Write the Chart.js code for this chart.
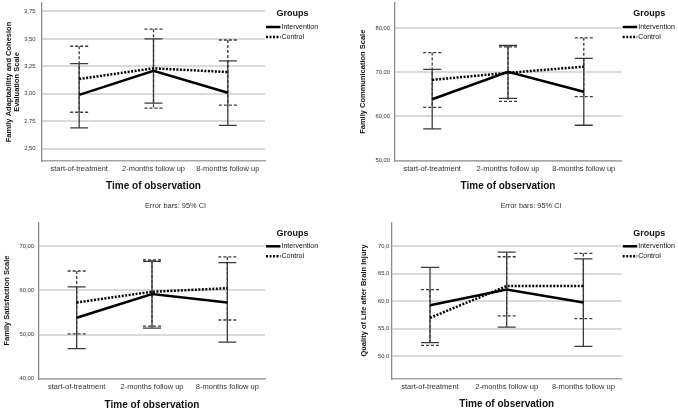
<!DOCTYPE html>
<html>
<head>
<meta charset="utf-8">
<script src="https://cdn.jsdelivr.net/npm/chart.js@4.4.1/dist/chart.umd.min.js"></script>
<style>
  body { margin: 0; background: #fff; }
  #wrap { position: relative; width: 678px; height: 411px; overflow: hidden; }
  canvas { position: absolute; }
  .note { position: absolute; font: 7.4px 'Liberation Sans', Arial, sans-serif; color: #333;
          transform: translate(-50%, -50%); white-space: nowrap; z-index: 2; }
</style>
</head>
<body>
<div id="wrap">
  <canvas id="faces" width="340" height="205" style="left:0;top:0"></canvas>
  <canvas id="comm" width="338" height="205" style="left:340px;top:0"></canvas>
  <canvas id="sat" width="340" height="206" style="left:0;top:205px"></canvas>
  <canvas id="qol" width="338" height="206" style="left:340px;top:205px"></canvas>
  <div class="note" style="left:175.5px;top:205px">Error bars: 95% CI</div>
  <div class="note" style="left:531px;top:205px">Error bars: 95% CI</div>
</div>
<script>
const categories = ['start-of-treatment', '2-months follow up', '8-months follow up'];
const groups = ['Intervention', 'Control'];
const legendTitle = 'Groups';
const xTitle = 'Time of observation';

// Family Adaptability and Cohesion Evaluation Scale
const facesInt = [2.99, 3.21, 3.01];
const facesIntLo = [2.69, 2.915, 2.713];
const facesIntHi = [3.275, 3.50, 3.30];
const facesCtl = [3.135, 3.232, 3.198];
const facesCtlLo = [2.832, 2.869, 2.896];
const facesCtlHi = [3.433, 3.589, 3.49];
const facesTicks = [2.5, 2.75, 3.0, 3.25, 3.5, 3.75];
const facesTickLabels = ['2,50', '2,75', '3,00', '3,25', '3,50', '3,75'];

// Family Communication Scale
const commInt = [63.9, 70.15, 65.6];
const commIntLo = [57.2, 64.1, 58.0];
const commIntHi = [70.7, 76.1, 73.2];
const commCtl = [68.3, 69.9, 71.3];
const commCtlLo = [62.05, 63.4, 64.5];
const commCtlHi = [74.5, 75.8, 77.85];
const commTicks = [50, 60, 70, 80];
const commTickLabels = ['50,00', '60,00', '70,00', '80,00'];

// Family Satisfaction Scale
const satInt = [53.8, 59.2, 57.25];
const satIntLo = [46.8, 51.45, 48.3];
const satIntHi = [60.8, 66.6, 66.3];
const satCtl = [57.25, 59.7, 60.5];
const satCtlLo = [50.15, 51.9, 53.3];
const satCtlHi = [64.4, 66.9, 67.6];
const satTicks = [40, 50, 60, 70];
const satTickLabels = ['40,00', '50,00', '60,00', '70,00'];

// Quality of Life after Brain Injury
const qolInt = [59.27, 62.1, 59.76];
const qolIntLo = [52.45, 55.25, 51.76];
const qolIntHi = [66.15, 68.95, 67.7];
const qolCtl = [56.96, 62.75, 62.75];
const qolCtlLo = [51.95, 57.3, 56.8];
const qolCtlHi = [62.1, 68.1, 68.7];
const qolTicks = [50, 55, 60, 65, 70];
const qolTickLabels = ['50,0', '55,0', '60,0', '65,0', '70,0'];

const FONT = "'Liberation Sans', Arial, sans-serif";
Chart.defaults.font.family = FONT;
Chart.defaults.color = '#222';

// 95% CI whiskers, control first so the solid ones sit on top
const errorBars = {
  id: 'errorBars',
  beforeDatasetsDraw(chart) {
    const { ctx, scales: { x, y } } = chart;
    const cap = 9;
    [1, 0].forEach(i => {
      const ds = chart.data.datasets[i];
      ctx.save();
      ctx.strokeStyle = ds.errColor;
      ctx.lineWidth = 1.3;
      ctx.setLineDash(ds.errDash);
      ds.lo.forEach((lo, j) => {
        const px = x.getPixelForValue(j);
        const top = y.getPixelForValue(ds.hi[j]);
        const bot = y.getPixelForValue(lo);
        ctx.beginPath();
        ctx.moveTo(px, top); ctx.lineTo(px, bot);
        ctx.moveTo(px - cap, top); ctx.lineTo(px + cap, top);
        ctx.moveTo(px - cap, bot); ctx.lineTo(px + cap, bot);
        ctx.stroke();
      });
      ctx.restore();
    });
  }
};

const groupsLegend = {
  id: 'groupsLegend',
  afterDraw(chart) {
    const { ctx, chartArea: { right, top } } = chart;
    ctx.save();
    ctx.fillStyle = '#111';
    ctx.textBaseline = 'middle';
    ctx.textAlign = 'center';
    ctx.font = 'bold 9px ' + FONT;
    ctx.fillText(legendTitle, right + 27.5, top + 11);
    ctx.textAlign = 'left';
    ctx.font = '7px ' + FONT;
    chart.data.datasets.forEach((ds, i) => {
      const yy = top + 24 + i * 10;
      ctx.strokeStyle = '#000';
      ctx.lineWidth = 2.5;
      ctx.setLineDash(ds.borderDash || []);
      ctx.beginPath();
      ctx.moveTo(right + 1, yy);
      ctx.lineTo(right + 15.5, yy);
      ctx.stroke();
      ctx.fillText(ds.label, right + 16.5, yy);
    });
    ctx.restore();
  }
};

function makePanel(id, p) {
  const canvas = document.getElementById(id);
  const w = canvas.width, h = canvas.height;
  return new Chart(canvas, {
    type: 'line',
    data: {
      labels: categories,
      datasets: [
        { label: groups[0], data: p.int, lo: p.intLo, hi: p.intHi,
          borderColor: '#000', borderWidth: 2.5, pointRadius: 0,
          errColor: '#3a3a3a', errDash: [] },
        { label: groups[1], data: p.ctl, lo: p.ctlLo, hi: p.ctlHi,
          borderColor: '#000', borderWidth: 2.5, borderDash: [2, 1.5], pointRadius: 0,
          errColor: '#3a3a3a', errDash: [3, 2] }
      ]
    },
    options: {
      responsive: false,
      animation: false,
      devicePixelRatio: 1,
      layout: { padding: { left: 0, top: p.area.top, right: w - p.area.right, bottom: 0 } },
      plugins: { legend: { display: false }, tooltip: { enabled: false } },
      scales: {
        x: {
          offset: true,
          grid: { drawOnChartArea: false, drawTicks: false },
          border: { color: '#a6a6a6', width: 1.5 },
          ticks: { font: { size: 7.5 }, padding: p.xTickPad, color: '#333', maxRotation: 0, autoSkip: false },
          title: { display: true, text: xTitle, color: '#111',
                   font: { size: 10, weight: 'bold' }, padding: { top: 0, bottom: p.xTitlePad } },
          afterFit: s => { s.height = h - p.area.bottom; s.paddingLeft = 0; s.paddingRight = 0; }
        },
        y: {
          min: p.min,
          max: p.max,
          afterBuildTicks: s => { s.ticks = p.ticks.map(v => ({ value: v })); },
          grid: { color: '#dadada', lineWidth: 2, drawTicks: false },
          border: { color: '#8c8c8c', width: 1.3 },
          ticks: { font: { size: 5.8 }, padding: p.yTickPad, color: '#333',
                   callback: (v, i) => p.tickLabels[i] },
          title: { display: true, text: p.yTitle, color: '#111',
                   font: { size: 7.5, weight: 'bold', lineHeight: 1.1 }, padding: { top: p.yTitlePad, bottom: 0 } },
          afterFit: s => { s.width = p.area.left; s.paddingTop = 0; s.paddingBottom = 0; }
        }
      }
    },
    plugins: [errorBars, groupsLegend]
  });
}

makePanel('faces', {
  int: facesInt, intLo: facesIntLo, intHi: facesIntHi,
  ctl: facesCtl, ctlLo: facesCtlLo, ctlHi: facesCtlHi,
  ticks: facesTicks, tickLabels: facesTickLabels,
  yTitle: ['Family Adaptability and Cohesion', 'Evaluation Scale'],
  area: { left: 42, right: 265, top: 3, bottom: 161 },
  min: 2.388, max: 3.827,
  yTickPad: 6.5, yTitlePad: 4.4, xTickPad: 3.5, xTitlePad: 13
});

makePanel('comm', {
  int: commInt, intLo: commIntLo, intHi: commIntHi,
  ctl: commCtl, ctlLo: commCtlLo, ctlHi: commCtlHi,
  ticks: commTicks, tickLabels: commTickLabels,
  yTitle: 'Family Communication Scale',
  area: { left: 54.3, right: 281.7, top: 3, bottom: 160.5 },
  min: 50, max: 85.75,
  yTickPad: 4.3, yTitlePad: 19.2, xTickPad: 4, xTitlePad: 13
});

makePanel('sat', {
  int: satInt, intLo: satIntLo, intHi: satIntHi,
  ctl: satCtl, ctlLo: satCtlLo, ctlHi: satCtlHi,
  ticks: satTicks, tickLabels: satTickLabels,
  yTitle: 'Family Satisfaction Scale',
  area: { left: 39, right: 265, top: 17.3, bottom: 173.7 },
  min: 40, max: 75.44,
  yTickPad: 5, yTitlePad: 2.6, xTickPad: 3.8, xTitlePad: 0
});

makePanel('qol', {
  int: qolInt, intLo: qolIntLo, intHi: qolIntHi,
  ctl: qolCtl, ctlLo: qolCtlLo, ctlHi: qolCtlHi,
  ticks: qolTicks, tickLabels: qolTickLabels,
  yTitle: 'Quality of Life after Brain Injury',
  area: { left: 51.7, right: 281.7, top: 17.3, bottom: 173.7 },
  min: 45.86, max: 74.38,
  yTickPad: 2.5, yTitlePad: 20.2, xTickPad: 4.1, xTitlePad: 0.7
});
</script>
</body>
</html>
